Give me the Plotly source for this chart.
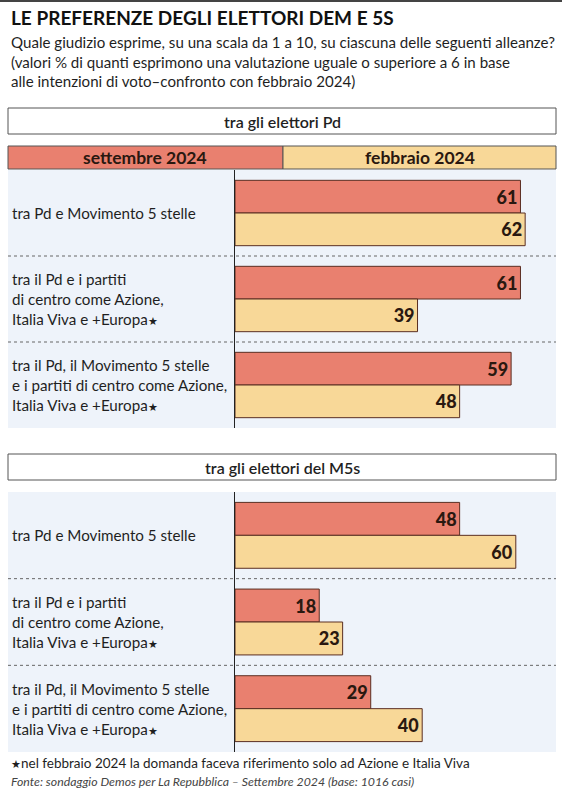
import plotly.graph_objects as go

W, H = 562, 800

title = "LE PREFERENZE DEGLI ELETTORI DEM E 5S"
subtitle = ["Quale giudizio esprime, su una scala da 1 a 10, su ciascuna delle seguenti alleanze?",
            "(valori % di quanti esprimono una valutazione uguale o superiore a 6 in base",
            "alle intenzioni di voto\u2013confronto con febbraio 2024)"]

STAR = "<span style='font-size:11px'>\u2605</span>"
categories = ["A", "B", "C"]
category_labels = [
    "tra Pd e Movimento 5 stelle",
    "tra il Pd e i partiti<br>di centro come Azione,<br>Italia Viva e +Europa" + STAR,
    "tra il Pd, il Movimento 5 stelle<br>e i partiti di centro come Azione,<br>Italia Viva e +Europa" + STAR,
]
series_names = ["settembre 2024", "febbraio 2024"]
panel_titles = ["tra gli elettori Pd", "tra gli elettori del M5s"]

pd_sept = [61, 61, 59]
pd_feb = [62, 39, 48]
m5s_sept = [48, 18, 29]
m5s_feb = [60, 23, 40]

footnote = STAR + "nel febbraio 2024 la domanda faceva riferimento solo ad Azione e Italia Viva"
source = "Fonte: sondaggio Demos per La Repubblica \u2013 Settembre 2024 (base: 1016 casi)"

RED = "#e9806f"
YEL = "#f8d898"
BG = "#eef3fa"
EDGE = "#5a2e22"
TXT = "#1f1f1f"
FONT = "Lato"


def px(x):
    return x / W


def py(y):
    return 1 - y / H


fig = go.Figure()

panels = [
    dict(sept=pd_sept, feb=pd_feb, xa="x", ya="y", top=170, bot=428),
    dict(sept=m5s_sept, feb=m5s_feb, xa="x2", ya="y2", top=492, bot=752),
]

for p in panels:
    for vals, col, name in [(p["sept"], RED, series_names[0]), (p["feb"], YEL, series_names[1])]:
        fig.add_trace(go.Bar(
            x=vals, y=categories, orientation="h", name=name,
            marker=dict(color=col, line=dict(color=EDGE, width=1)),
            text=[str(v) for v in vals], textposition="inside", insidetextanchor="end",
            textfont=dict(family=FONT, size=18, color="#2a1810", weight=900),
            xaxis=p["xa"], yaxis=p["ya"], showlegend=False, cliponaxis=False,
            hoverinfo="skip",
        ))

x_dom = [px(235), px(235 + 66 * 4.68)]
xcommon = dict(range=[0, 66], domain=x_dom, visible=False, fixedrange=True)
fig.update_layout(
    xaxis=dict(**xcommon, anchor="y"),
    xaxis2=dict(**xcommon, anchor="y2"),
    yaxis=dict(domain=[py(panels[0]["bot"]), py(panels[0]["top"])], range=[2.5, -0.5],
               type="category", showticklabels=False, showgrid=False, zeroline=False,
               showline=True, linecolor="#222", linewidth=1, anchor="x", ticks="", fixedrange=True),
    yaxis2=dict(domain=[py(panels[1]["bot"]), py(panels[1]["top"])], range=[2.5, -0.5],
                type="category", showticklabels=False, showgrid=False, zeroline=False,
                showline=True, linecolor="#222", linewidth=1, anchor="x2", ticks="", fixedrange=True),
)

shapes = []
annotations = []

# top rule
shapes.append(dict(type="rect", xref="paper", yref="paper", x0=0, x1=1, y0=py(2), y1=py(0),
                   fillcolor="#444", line=dict(width=0), layer="below"))

# panel backgrounds
for p in panels:
    shapes.append(dict(type="rect", xref="paper", yref="paper", x0=px(8), x1=px(556),
                       y0=py(p["bot"]), y1=py(p["top"]), fillcolor=BG, line=dict(width=0), layer="below"))

# dotted separators
for ya in ["y", "y2"]:
    for s in [0.5, 1.5]:
        shapes.append(dict(type="line", xref="paper", yref=ya, x0=px(8), x1=px(556), y0=s, y1=s,
                           line=dict(color="#666", width=1, dash="dot"), layer="below"))

# panel title boxes
for t, (y0, y1) in zip(panel_titles, [(108, 134), (454, 480)]):
    shapes.append(dict(type="rect", xref="paper", yref="paper", x0=px(8), x1=px(556),
                       y0=py(y1), y1=py(y0), fillcolor="white", line=dict(color="#555", width=1)))
    annotations.append(dict(text=t, xref="paper", yref="paper", x=px(282), y=py((y0 + y1) / 2),
                            xanchor="center", yanchor="middle", showarrow=False,
                            font=dict(family=FONT, size=16, color=TXT, weight=600)))

# legend bar
shapes.append(dict(type="rect", xref="paper", yref="paper", x0=px(8), x1=px(283), y0=py(169), y1=py(146),
                   fillcolor=RED, line=dict(color="#555", width=1)))
shapes.append(dict(type="rect", xref="paper", yref="paper", x0=px(283), x1=px(556), y0=py(169), y1=py(146),
                   fillcolor=YEL, line=dict(color="#555", width=1)))
for name, cx in zip(series_names, [145, 420]):
    annotations.append(dict(text=name, xref="paper", yref="paper", x=px(cx), y=py(157.5),
                            xanchor="center", yanchor="middle", showarrow=False,
                            font=dict(family=FONT, size=17.5, color="#2a1810", weight="bold")))

# category labels
for ya in ["y", "y2"]:
    for c, lab in zip(categories, category_labels):
        annotations.append(dict(text=lab, xref="paper", yref=ya, x=px(10), y=c,
                                xanchor="left", yanchor="middle", align="left", showarrow=False,
                                font=dict(family=FONT, size=15.2, color=TXT, weight=400)))

# title & subtitle
annotations.append(dict(text="<b>" + title + "</b>", xref="paper", yref="paper", x=px(9), y=py(18),
                        xanchor="left", yanchor="middle", showarrow=False,
                        font=dict(family=FONT, size=19, color="#111")))
annotations.append(dict(text="<br>".join(subtitle), xref="paper", yref="paper", x=px(9), y=py(61),
                        xanchor="left", yanchor="middle", align="left", showarrow=False,
                        font=dict(family=FONT, size=15.1, color=TXT, weight=400)))

# footnote & source
annotations.append(dict(text=footnote, xref="paper", yref="paper", x=px(9), y=py(763),
                        xanchor="left", yanchor="middle", showarrow=False,
                        font=dict(family=FONT, size=13.5, color=TXT, weight=400)))
annotations.append(dict(text="<i>" + source + "</i>", xref="paper", yref="paper", x=px(9), y=py(781),
                        xanchor="left", yanchor="middle", showarrow=False,
                        font=dict(family=FONT, size=12.3, color="#444", weight=400)))

fig.update_layout(
    width=W, height=H, margin=dict(l=0, r=0, t=0, b=0),
    paper_bgcolor="white", plot_bgcolor="rgba(0,0,0,0)",
    barmode="group", bargap=0.24, bargroupgap=0,
    shapes=shapes, annotations=annotations,
    font=dict(family=FONT),
    uniformtext=dict(mode="show", minsize=10),
    hovermode=False,
)

fig.write_html("out.html", config={"displayModeBar": False},
               post_script="document.body.style.margin='0';")
